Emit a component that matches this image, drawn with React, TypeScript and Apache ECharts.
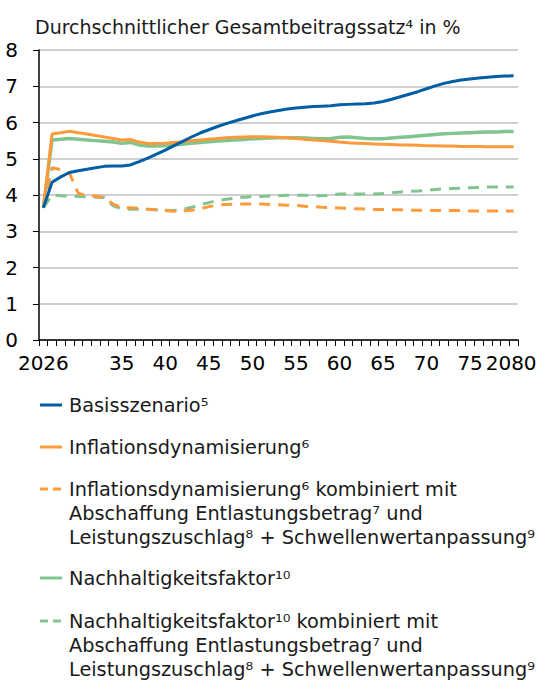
import React, { useEffect, useRef } from "react";
import * as echarts from "echarts";

const years = [
  "2026","2027","2028","2029","2030","2031","2032","2033","2034","2035",
  "2036","2037","2038","2039","2040","2041","2042","2043","2044","2045",
  "2046","2047","2048","2049","2050","2051","2052","2053","2054","2055",
  "2056","2057","2058","2059","2060","2061","2062","2063","2064","2065",
  "2066","2067","2068","2069","2070","2071","2072","2073","2074","2075",
  "2076","2077","2078","2079","2080",
];

const xTickLabels: Record<string, string> = {
  "2026": "2026", "2035": "35", "2040": "40", "2045": "45", "2050": "50",
  "2055": "55", "2060": "60", "2065": "65", "2070": "70", "2075": "75", "2080": "2080",
};

const yMin = 0;
const yMax = 8;
const yStep = 1;

const basis = [
  3.65, 4.35, 4.50, 4.62, 4.67, 4.71, 4.75, 4.79, 4.80, 4.80,
  4.83, 4.92, 5.02, 5.13, 5.24, 5.36, 5.48, 5.60, 5.71, 5.80,
  5.89, 5.97, 6.04, 6.11, 6.18, 6.24, 6.29, 6.33, 6.37, 6.40,
  6.42, 6.44, 6.45, 6.46, 6.49, 6.50, 6.51, 6.52, 6.54, 6.58,
  6.64, 6.71, 6.78, 6.85, 6.93, 7.01, 7.08, 7.13, 7.17, 7.20,
  7.23, 7.25, 7.27, 7.28, 7.29,
];

const inflation = [
  3.65, 5.68, 5.72, 5.76, 5.72, 5.68, 5.64, 5.60, 5.56, 5.52,
  5.53, 5.46, 5.42, 5.42, 5.43, 5.45, 5.47, 5.50, 5.52, 5.54,
  5.56, 5.58, 5.59, 5.60, 5.61, 5.61, 5.60, 5.59, 5.58, 5.56,
  5.54, 5.52, 5.50, 5.48, 5.46, 5.44, 5.43, 5.42, 5.41, 5.40,
  5.39, 5.38, 5.38, 5.37, 5.36, 5.36, 5.35, 5.35, 5.34, 5.34,
  5.34, 5.33, 5.33, 5.33, 5.33,
];

const inflationCombined = [
  3.65, 4.75, 4.70, 4.60, 4.05, 3.98, 3.97, 3.93, 3.75, 3.65,
  3.65, 3.63, 3.61, 3.59, 3.57, 3.55, 3.56, 3.58, 3.62, 3.68,
  3.72, 3.74, 3.75, 3.75, 3.75, 3.75, 3.74, 3.73, 3.72, 3.71,
  3.69, 3.68, 3.66, 3.65, 3.64, 3.63, 3.62, 3.61, 3.60, 3.60,
  3.59, 3.59, 3.58, 3.58, 3.58, 3.57, 3.57, 3.57, 3.57, 3.56,
  3.56, 3.56, 3.56, 3.56, 3.56,
];

const sustainability = [
  3.65, 5.52, 5.54, 5.56, 5.54, 5.52, 5.50, 5.48, 5.46, 5.43,
  5.45, 5.38, 5.35, 5.35, 5.36, 5.38, 5.40, 5.43, 5.45, 5.47,
  5.49, 5.50, 5.52, 5.53, 5.55, 5.56, 5.57, 5.58, 5.58, 5.58,
  5.57, 5.56, 5.55, 5.56, 5.59, 5.60, 5.58, 5.56, 5.55, 5.55,
  5.57, 5.59, 5.61, 5.63, 5.65, 5.67, 5.69, 5.70, 5.71, 5.72,
  5.73, 5.74, 5.74, 5.75, 5.75,
];

const sustainabilityCombined = [
  3.65, 4.00, 3.98, 3.97, 3.96, 3.95, 3.94, 3.93, 3.70, 3.62,
  3.61, 3.61, 3.60, 3.59, 3.58, 3.57, 3.60, 3.66, 3.73, 3.79,
  3.85, 3.88, 3.91, 3.94, 3.95, 3.96, 3.97, 3.98, 3.99, 3.99,
  3.99, 3.98, 3.98, 4.00, 4.03, 4.03, 4.03, 4.03, 4.03, 4.04,
  4.06, 4.08, 4.10, 4.11, 4.13, 4.15, 4.17, 4.18, 4.19, 4.20,
  4.21, 4.22, 4.22, 4.22, 4.22,
];

const titleText = "Durchschnittlicher Gesamtbeitragssatz⁴ in %";

const seriesNames = [
  "Basisszenario⁵",
  "Inflationsdynamisierung⁶",
  "Inflationsdynamisierung⁶ kombiniert mit\nAbschaffung Entlastungsbetrag⁷ und\nLeistungszuschlag⁸ + Schwellenwertanpassung⁹",
  "Nachhaltigkeitsfaktor¹⁰",
  "Nachhaltigkeitsfaktor¹⁰ kombiniert mit\nAbschaffung Entlastungsbetrag⁷ und\nLeistungszuschlag⁸ + Schwellenwertanpassung⁹",
];

const BLUE = "#005EA4";
const ORANGE = "#FD9A3B";
const GREEN = "#80C48F";
const FONT = "DejaVu Sans";

export default function App() {
  const ref = useRef<HTMLDivElement>(null);

  useEffect(() => {
    if (!ref.current) return;
    const chart = echarts.init(ref.current, null, { renderer: "svg" });

    const seriesData = [basis, inflation, inflationCombined, sustainability, sustainabilityCombined];
    const colors = [BLUE, ORANGE, ORANGE, GREEN, GREEN];
    const dashed = [false, false, true, false, true];
    const widths = [3, 3, 3, 3.5, 3];

    const legendY = [405, 447, 489, 578, 621];
    const legendGraphics: any[] = [];
    seriesNames.forEach((name, i) => {
      const y = legendY[i];
      if (dashed[i]) {
        legendGraphics.push({
          type: "line",
          shape: { x1: 40, y1: y, x2: 48, y2: y },
          style: { stroke: colors[i], lineWidth: 3 },
        });
        legendGraphics.push({
          type: "line",
          shape: { x1: 53, y1: y, x2: 61, y2: y },
          style: { stroke: colors[i], lineWidth: 3 },
        });
      } else {
        legendGraphics.push({
          type: "line",
          shape: { x1: 40, y1: y, x2: 62, y2: y },
          style: { stroke: colors[i], lineWidth: 3 },
        });
      }
      legendGraphics.push({
        type: "text",
        x: 69,
        y: y - 12,
        style: {
          text: name,
          fontFamily: FONT,
          fontSize: 19.3,
          lineHeight: 24,
          fill: "#1a1a1a",
          verticalAlign: "top",
          align: "left",
        },
      });
    });

    const option: any = {
      animation: false,
      grid: { left: 39, right: 25, top: 50, bottom: 342, containLabel: false },
      xAxis: {
        type: "category",
        data: years,
        boundaryGap: true,
        axisLine: { show: true, lineStyle: { color: "#000", width: 1.5 } },
        axisTick: { show: true, interval: 0, alignWithLabel: false, length: 6, lineStyle: { color: "#000", width: 1 } },
        axisLabel: {
          interval: (_idx: number, value: string) => value in xTickLabels,
          formatter: (value: string) =>
            value === "2080" ? "{last|" + xTickLabels[value] + "}" : xTickLabels[value] ?? "",
          fontFamily: FONT,
          fontSize: 20,
          color: "#000",
          margin: 13,
          showMinLabel: true,
          showMaxLabel: true,
          hideOverlap: false,
          rich: {
            last: { fontFamily: FONT, fontSize: 20, color: "#000", padding: [0, 5, 0, 0] },
          },
        },
        splitLine: { show: false },
      },
      yAxis: {
        type: "value",
        min: yMin,
        max: yMax,
        interval: yStep,
        axisLine: { show: true, lineStyle: { color: "#000", width: 1.5 } },
        axisTick: { show: true, length: 6, lineStyle: { color: "#000", width: 1 } },
        axisLabel: { fontFamily: FONT, fontSize: 20, color: "#000", margin: 21 },
        splitLine: { show: true, lineStyle: { color: "#BFBFBF", width: 1.5 } },
      },
      series: seriesData.map((d, i) => ({
        type: "line",
        name: seriesNames[i],
        data: d,
        showSymbol: false,
        symbol: "none",
        smooth: false,
        lineStyle: {
          color: colors[i],
          width: widths[i],
          type: dashed[i] ? [11, 8] : "solid",
        },
        z: [5, 4, 3, 3, 2][i],
      })),
      graphic: [
        {
          type: "text",
          x: 35,
          y: 27,
          style: {
            text: titleText,
            fontFamily: FONT,
            fontSize: 19,
            fill: "#1a1a1a",
            verticalAlign: "middle",
            align: "left",
          },
        },
        ...legendGraphics,
      ],
    };

    chart.setOption(option);
    return () => chart.dispose();
  }, []);

  return (
    <div
      ref={ref}
      style={{ position: "fixed", left: 0, top: 0, width: 543, height: 682, background: "#fff" }}
    />
  );
}
